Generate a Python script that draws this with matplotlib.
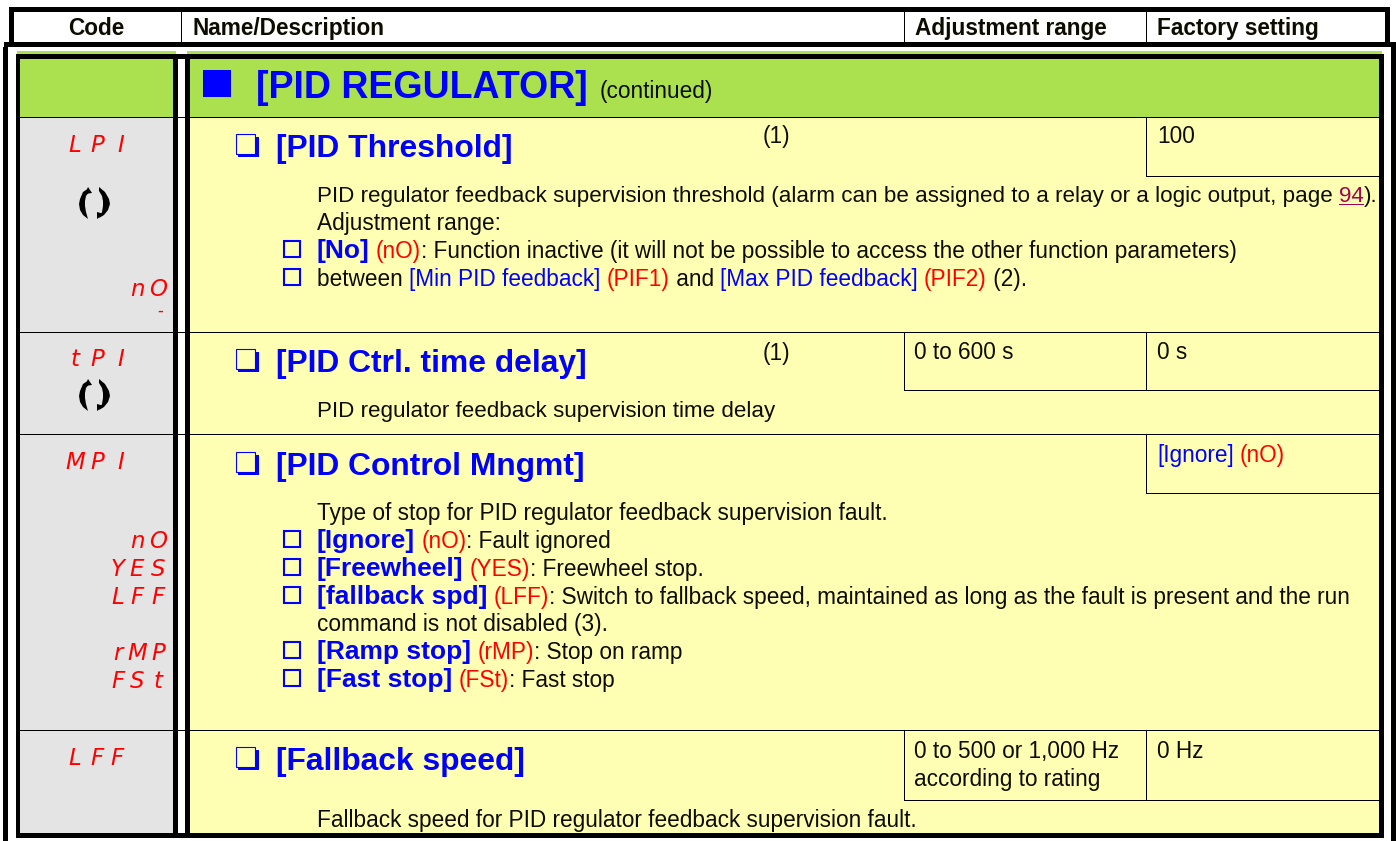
import matplotlib
matplotlib.use('Agg')
import matplotlib.pyplot as plt
from matplotlib.patches import Rectangle, Polygon

BLUE = '#0000ff'
RED = '#ff0000'
BLACK = '#0c0c00'
LINK = '#a8004c'
GREEN = '#abe14e'
GRAY = '#e4e4e4'
YELLOW = '#ffffb3'

TEXT_SIZE = 16.25
TIGHT_SIZE = 16.1
BOLD_SIZE = 19

header_labels = ['Name/Description', 'Adjustment range', 'Factory setting']
header_x = [193, 915, 1157]

section_title = '[PID REGULATOR]'
section_note = '(continued)'

param_names = ['[PID Threshold]', '[PID Ctrl. time delay]', '[PID Control Mngmt]', '[Fallback speed]']
param_y = [157, 372, 475, 770]

note_y = [143, 360]
cell_text = [
    (1157, 143, '100'),
    (914, 359, '0 to 600 s'),
    (1157, 359, '0 s'),
    (914, 758, '0 to 500 or 1,000 Hz'),
    (914, 786, 'according to rating'),
    (1157, 758, '0 Hz'),
]

# each row: baseline y, has checkbox, runs of (text, style)
body_rows = [
    (202, False, [('PID regulator feedback supervision threshold (alarm can be assigned to a relay or a logic output, page ', 't'), ('94', 'u'), (').', 't')]),
    (230, False, [('Adjustment range:', 'k')]),
    (258, True, [('[No]', 'b'), (' ', 'k'), ('(nO)', 'r'), (': Function inactive (it will not be possible to access the other function parameters)', 'k')]),
    (286, True, [('between ', 'k'), ('[Min PID feedback]', 'l'), (' ', 'k'), ('(PIF1)', 'r'), (' and ', 'k'), ('[Max PID feedback]', 'l'), (' ', 'k'), ('(PIF2)', 'r'), (' (2).', 'k')]),
    (417, False, [('PID regulator feedback supervision time delay', 't')]),
    (520, False, [('Type of stop for PID regulator feedback supervision fault.', 'k')]),
    (548, True, [('[Ignore]', 'b'), (' ', 'k'), ('(nO)', 'r'), (': Fault ignored', 'k')]),
    (576, True, [('[Freewheel]', 'b'), (' ', 'k'), ('(YES)', 'r'), (': Freewheel stop.', 'k')]),
    (604, True, [('[fallback spd]', 'b'), (' ', 'k'), ('(LFF)', 'r'), (': Switch to fallback speed, maintained as long as the fault is present and the run', 'k')]),
    (631, False, [('command is not disabled (3).', 'k')]),
    (659, True, [('[Ramp stop]', 'b'), (' ', 'k'), ('(rMP)', 'r'), (': Stop on ramp', 'k')]),
    (687, True, [('[Fast stop]', 'b'), (' ', 'k'), ('(FSt)', 'r'), (': Fast stop', 'k')]),
    (827, False, [('Fallback speed for PID regulator feedback supervision fault.', 'k')]),
]

# code column: baseline y, letters, x centre of each letter
code_rows = [
    (152, 'LPI', [75, 97, 121]),
    (296, 'nO', [137, 158]),
    (366, 'tPI', [75, 97, 121]),
    (469, 'MPI', [75, 97, 121]),
    (548, 'nO', [137, 158]),
    (576, 'YES', [118, 137, 158]),
    (604, 'LFF', [118, 137, 158]),
    (660, 'rMP', [118, 137, 158]),
    (688, 'FSt', [118, 137, 158]),
    (765, 'LFF', [75, 97, 117]),
]

icon_y = [203, 395]

plt.rcParams['font.family'] = ['Liberation Sans', 'DejaVu Sans']

fig = plt.figure(figsize=(13.96, 8.41), dpi=100)
ax = fig.add_axes([0, 0, 1, 1])
ax.set_xlim(0, 1396)
ax.set_ylim(841, 0)
ax.axis('off')


def box(x0, y0, x1, y1, color, z=1):
    ax.add_patch(Rectangle((x0, y0), x1 - x0, y1 - y0, fc=color, ec='none', lw=0, zorder=z))


def hline(y, x0, x1):
    box(x0, y - 0.5, x1, y + 0.5, 'black', 3)


def vline(x, y0, y1):
    box(x - 0.5, y0, x + 0.5, y1, 'black', 3)


# fills
box(17, 51, 176, 117, GREEN)
box(187, 51, 1382, 117, GREEN)
box(20, 117, 173, 833, GRAY)
box(190, 117, 1379, 833, YELLOW)

# thick frames
for r in [(9, 7, 1390, 12), (9, 7, 14, 42), (1385, 7, 1390, 42), (4, 42, 1396, 47),
          (3, 47, 8, 841), (1391, 42, 1396, 841),
          (16, 54, 1384, 59), (16, 54, 20, 838), (173, 54, 178, 838), (185, 54, 190, 838),
          (1379, 54, 1384, 838), (16, 833, 1384, 838)]:
    box(r[0], r[1], r[2], r[3], 'black', 4)

# thin table rules
for y in [117, 332.5, 434, 730]:
    hline(y, 20, 1379)
for x in [181, 904, 1146.5]:
    vline(x, 12, 42)
vline(1146.5, 117, 176)
hline(176, 1146, 1379)
vline(904, 332, 390)
vline(1146.5, 332, 390)
hline(390, 904, 1379)
vline(1146.5, 434, 493)
hline(493, 1146, 1379)
vline(904, 730, 800)
vline(1146.5, 730, 800)
hline(800, 904, 1379)

ax.text(96, 35, 'Code', fontsize=TEXT_SIZE, fontweight='bold', ha='center', va='baseline', color=BLACK)
for x, label in zip(header_x, header_labels):
    ax.text(x, 35, label, fontsize=TEXT_SIZE, fontweight='bold', ha='left', va='baseline', color=BLACK)

box(203, 70, 231, 97, BLUE, 5)
ax.text(256, 98, section_title, fontsize=27, fontweight='bold', color=BLUE, va='baseline')
ax.text(600, 98, section_note, fontsize=TEXT_SIZE, color=BLACK, va='baseline')

for y, name in zip(param_y, param_names):
    ax.text(276, y, name, fontsize=22.9, fontweight='bold', color=BLUE, va='baseline')
    top = y - 23
    box(238, top + 3, 259, top + 23, BLUE, 5)
    box(235.5, top, 255, top + 20, YELLOW, 6)
    ax.add_patch(Rectangle((235.5, top), 19.5, 19.5, fc=YELLOW, ec=BLUE, lw=0.8, zorder=7))

for y in note_y:
    ax.text(763, y, '(1)', fontsize=TEXT_SIZE, color=BLACK, va='baseline')

for x, y, s in cell_text:
    ax.text(x, y, s, fontsize=TEXT_SIZE, color=BLACK, va='baseline')

styles = {
    'k': dict(color=BLACK, fontsize=TEXT_SIZE),
    't': dict(color=BLACK, fontsize=TIGHT_SIZE),
    'r': dict(color=RED, fontsize=TEXT_SIZE),
    'l': dict(color=BLUE, fontsize=TEXT_SIZE),
    'b': dict(color=BLUE, fontweight='bold', fontsize=BOLD_SIZE),
    'u': dict(color=LINK, fontsize=TIGHT_SIZE),
}
fig.canvas.draw()
renderer = fig.canvas.get_renderer()


def run_width(s, style):
    probe = ax.text(0, 0, s + '|', **styles[style])
    w = probe.get_window_extent(renderer).width
    probe.set_text('|')
    w -= probe.get_window_extent(renderer).width
    probe.remove()
    return w


def draw_runs(x, y, runs):
    for s, style in runs:
        ax.text(x, y, s, va='baseline', **styles[style])
        w = run_width(s, style)
        if style == 'u':
            ax.add_patch(Rectangle((x, y + 1.5), w, 1, fc=LINK, ec='none', lw=0, zorder=3))
        x += w


for y, checked, runs in body_rows:
    draw_runs(317, y, runs)
    if checked:
        ax.add_patch(Rectangle((284, y - 17), 16, 16, fc='none', ec=BLUE, lw=1.5, zorder=5))

draw_runs(1157, 462, [('[Ignore]', 'l'), (' ', 'k'), ('(nO)', 'r')])

# seven segment style codes
for y, letters, xs in code_rows:
    for ch, x in zip(letters, xs):
        ax.text(x, y, ch, fontsize=16.5, style='oblique', family='DejaVu Sans', color=RED,
                ha='center', va='baseline')
ax.text(160, 316, '-', fontsize=12, family='DejaVu Sans', color=RED, ha='center', va='baseline')

# refresh icons
for y in icon_y:
    left = [(89, -15), (83, -11), (80, -4), (79, 1), (80, 7), (83, 12), (88, 16),
            (86, 9), (85, 3), (85, -2), (86, -7), (89, -11)]
    ax.add_patch(Polygon([(a, y + b) for a, b in left], fc='black', ec='none', zorder=5))
    ax.add_patch(Polygon([(88, y - 16), (92, y - 10), (85, y - 9)], fc='black', ec='none', zorder=5))
    right = [(99, -16), (105, -11), (109, -4), (110, 1), (108, 7), (104, 12), (99, 15),
             (102, 9), (103, 3), (103, -2), (102, -7), (99, -12)]
    ax.add_patch(Polygon([(a, y + b) for a, b in right], fc='black', ec='none', zorder=5))
    ax.add_patch(Polygon([(97, y + 16), (97, y + 9), (104, y + 11)], fc='black', ec='none', zorder=5))

fig.savefig('out.png', dpi=100, facecolor='white')
